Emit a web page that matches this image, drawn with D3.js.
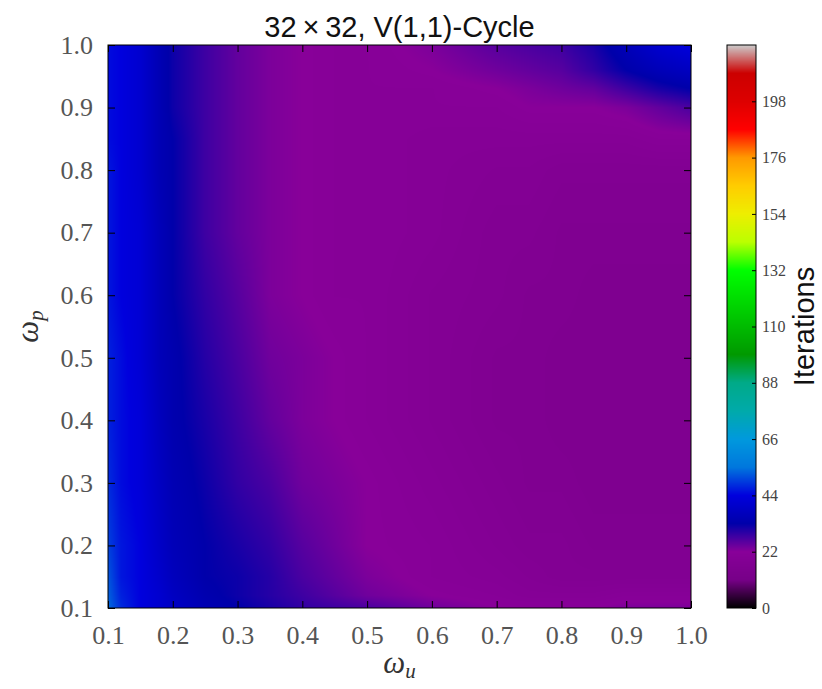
<!DOCTYPE html>
<html>
<head>
<meta charset="utf-8">
<script src="https://cdn.jsdelivr.net/npm/d3@7/dist/d3.min.js"></script>
<style>
  html, body { margin: 0; padding: 0; background: #ffffff; }
  svg { display: block; }
</style>
</head>
<body>
<script>
// ---------------- data ----------------
const omegaU = [0.1, 0.12, 0.15, 0.18, 0.2, 0.25, 0.3, 0.35, 0.4, 0.45, 0.5, 0.6, 0.7, 0.75, 0.8, 0.85, 0.9, 0.95, 1.0];
const omegaP = [0.1, 0.12, 0.15, 0.2, 0.3, 0.4, 0.5, 0.6, 0.7, 0.8, 0.85, 0.9, 0.93, 0.96, 1.0];
// iterations[row for omegaP][column for omegaU]
const iterations = [
  [54, 48, 44, 41, 39, 35, 33, 31, 29, 28, 27, 24, 22, 22, 22, 22, 23, 23, 23],
  [53, 47, 44, 41, 38, 34, 32, 30, 28, 26, 24, 22, 21, 20, 20, 20, 21, 21, 21],
  [52, 46, 44, 40, 37, 33, 32, 30, 27, 25, 23, 21, 20, 19, 18, 18, 18, 18, 18],
  [50, 46, 44, 39, 36, 33, 31, 29, 26, 24, 22, 21, 19, 18, 18, 17, 17, 17, 17],
  [48, 45, 43, 38, 35, 32, 29, 27, 24, 23, 22, 20, 18, 17, 17, 16, 16, 16, 16],
  [47, 45, 43, 37, 34, 31, 28, 25, 23, 22, 21, 19, 17, 17, 16, 16, 16, 16, 16],
  [47, 45, 42, 36, 34, 30, 27, 24, 23, 22, 21, 19, 17, 17, 16, 16, 16, 16, 16],
  [46, 44, 42, 36, 33, 29, 26, 23, 22, 21, 21, 19, 18, 17, 17, 16, 16, 16, 16],
  [46, 44, 42, 36, 33, 28, 25, 23, 22, 21, 21, 20, 18, 18, 17, 17, 17, 17, 17],
  [46, 44, 41, 35, 33, 28, 25, 23, 22, 21, 21, 20, 19, 19, 18, 18, 18, 18, 18],
  [45, 44, 41, 35, 33, 28, 25, 23, 22, 21, 21, 20, 20, 20, 20, 20, 20, 21, 21],
  [45, 44, 41, 35, 32, 28, 25, 23, 22, 21, 21, 21, 21, 22, 22, 22, 23, 25, 27],
  [45, 44, 41, 35, 32, 28, 25, 23, 22, 21, 21, 21, 22, 23, 24, 25, 28, 31, 33],
  [45, 44, 41, 35, 32, 28, 25, 23, 22, 21, 21, 22, 24, 25, 26, 29, 33, 36, 38],
  [45, 44, 41, 35, 32, 28, 25, 23, 22, 21, 21, 23, 26, 27, 28, 31, 36, 41, 44]
];
const xTicks = [0.1, 0.2, 0.3, 0.4, 0.5, 0.6, 0.7, 0.8, 0.9, 1.0];
const yTicks = [0.1, 0.2, 0.3, 0.4, 0.5, 0.6, 0.7, 0.8, 0.9, 1.0];
const cbTicks = [0, 22, 44, 66, 88, 110, 132, 154, 176, 198];
const colorDomain = [0, 220];
const titleText = "32\u2009\u00d7\u200932, V(1,1)-Cycle";
const cbLabel = "Iterations";

// nipy_spectral colormap
const cmapPos = [0.0,0.05,0.10,0.15,0.20,0.25,0.30,0.35,0.40,0.45,0.50,0.55,0.60,0.65,0.70,0.75,0.80,0.85,0.90,0.95,1.0];
const cmapR = [0.0,0.4667,0.5333,0.0,0.0,0.0,0.0,0.0,0.0,0.0,0.0,0.0,0.0,0.7333,0.9333,1.0,1.0,1.0,0.8667,0.80,0.80];
const cmapG = [0.0,0.0,0.0,0.0,0.0,0.4667,0.6000,0.6667,0.6667,0.6000,0.7333,0.8667,1.0,1.0,0.9333,0.8000,0.6000,0.0,0.0,0.0,0.80];
const cmapB = [0.0,0.5333,0.6000,0.6667,0.8667,0.8667,0.8667,0.6667,0.5333,0.0,0.0,0.0,0.0,0.0,0.0,0.0,0.0,0.0,0.0,0.0,0.80];

// ---------------- layout ----------------
const W = 822, H = 689;
const L = 108, R = 691, T = 45, B = 608;
const cbL = 727, cbR = 756;

const svg = d3.select("body").append("svg").attr("width", W).attr("height", H);

const x = d3.scaleLinear().domain([0.1, 1.0]).range([L, R]);
const y = d3.scaleLinear().domain([0.1, 1.0]).range([B, T]);
const color = d3.scaleLinear()
  .domain(cmapPos.map(p => colorDomain[0] + p * (colorDomain[1] - colorDomain[0])))
  .range(cmapPos.map((p, i) => d3.rgb(cmapR[i] * 255, cmapG[i] * 255, cmapB[i] * 255).toString()))
  .interpolate(d3.interpolateRgb)
  .clamp(true);
const cy = d3.scaleLinear().domain(colorDomain).range([B, T]);

// bilinear sampling on the non-uniform grid (gouraud-like shading)
function locate(arr, v) {
  let i = d3.bisectRight(arr, v) - 1;
  i = Math.max(0, Math.min(arr.length - 2, i));
  let t = (v - arr[i]) / (arr[i + 1] - arr[i]);
  t = Math.max(0, Math.min(1, t));
  return [i, t];
}
function sample(u, p) {
  const [iu, tu] = locate(omegaU, u);
  const [ip, tp] = locate(omegaP, p);
  const a = iterations[ip][iu], b = iterations[ip][iu + 1];
  const c = iterations[ip + 1][iu], d = iterations[ip + 1][iu + 1];
  return (a * (1 - tu) + b * tu) * (1 - tp) + (c * (1 - tu) + d * tu) * tp;
}

// heatmap image
const pw = R - L, ph = B - T;
const cv = document.createElement("canvas");
cv.width = pw; cv.height = ph;
const ctx = cv.getContext("2d");
const img = ctx.createImageData(pw, ph);
for (let py = 0; py < ph; py++) {
  const p = y.invert(T + py + 0.5);
  for (let px = 0; px < pw; px++) {
    const u = x.invert(L + px + 0.5);
    const col = d3.rgb(color(sample(u, p)));
    const k = (py * pw + px) * 4;
    img.data[k] = col.r; img.data[k + 1] = col.g; img.data[k + 2] = col.b; img.data[k + 3] = 255;
  }
}
ctx.putImageData(img, 0, 0);
svg.append("image").attr("x", L).attr("y", T).attr("width", pw).attr("height", ph)
  .attr("preserveAspectRatio", "none").attr("href", cv.toDataURL());

// colorbar image
const cbw = cbR - cbL, cbh = B - T;
const cv2 = document.createElement("canvas");
cv2.width = 1; cv2.height = cbh;
const ctx2 = cv2.getContext("2d");
for (let py = 0; py < cbh; py++) {
  ctx2.fillStyle = color(cy.invert(T + py + 0.5));
  ctx2.fillRect(0, py, 1, 1);
}
svg.append("image").attr("x", cbL).attr("y", T).attr("width", cbw).attr("height", cbh)
  .attr("preserveAspectRatio", "none").attr("href", cv2.toDataURL());

// axes
const tickFont = "'Liberation Serif', 'DejaVu Serif', serif";
function styleAxis(g) {
  g.select(".domain").remove();
  g.selectAll(".tick line").attr("stroke", "#000").attr("stroke-width", 1);
  g.selectAll(".tick text").attr("font-family", tickFont).attr("font-size", 26).attr("fill", "#555");
}
svg.append("g").attr("transform", `translate(0,${B})`)
  .call(d3.axisBottom(x).tickValues(xTicks).tickFormat(d3.format(".1f")).tickSize(-7).tickPadding(18))
  .call(styleAxis);
svg.append("g").attr("transform", `translate(${L},0)`)
  .call(d3.axisLeft(y).tickValues(yTicks).tickFormat(d3.format(".1f")).tickSize(-7).tickPadding(15))
  .call(styleAxis);
svg.append("g").attr("transform", `translate(0,${T})`)
  .call(d3.axisTop(x).tickValues(xTicks).tickFormat("").tickSize(-7))
  .call(styleAxis);
svg.append("g").attr("transform", `translate(${R},0)`)
  .call(d3.axisRight(y).tickValues(yTicks).tickFormat("").tickSize(-7))
  .call(styleAxis);

svg.append("rect").attr("x", L).attr("y", T).attr("width", pw).attr("height", ph)
  .attr("fill", "none").attr("stroke", "#000").attr("stroke-width", 1);

// colorbar axis
const cbAxis = svg.append("g").attr("transform", `translate(${cbR},0)`)
  .call(d3.axisRight(cy).tickValues(cbTicks).tickSize(-4).tickPadding(6));
cbAxis.select(".domain").remove();
cbAxis.selectAll(".tick line").attr("stroke", "#000");
cbAxis.selectAll(".tick text").attr("font-family", tickFont).attr("font-size", 16).attr("fill", "#444");
svg.append("rect").attr("x", cbL).attr("y", T).attr("width", cbw).attr("height", cbh)
  .attr("fill", "none").attr("stroke", "#000").attr("stroke-width", 1);

// labels
svg.append("text").attr("x", (L + R) / 2).attr("y", 37).attr("text-anchor", "middle")
  .attr("font-family", "'Liberation Sans', Arial, sans-serif").attr("font-size", 29).attr("fill", "#111")
  .text(titleText);

svg.append("text").attr("transform", `translate(814,${(T + B) / 2}) rotate(-90)`)
  .attr("text-anchor", "middle")
  .attr("font-family", "'Liberation Sans', Arial, sans-serif").attr("font-size", 29).attr("fill", "#111")
  .text(cbLabel);

const xl = svg.append("text").attr("x", (L + R) / 2).attr("y", 673).attr("text-anchor", "middle")
  .attr("font-family", tickFont).attr("font-size", 31).attr("fill", "#333");
xl.append("tspan").attr("font-style", "italic").text("\u03c9");
xl.append("tspan").attr("font-style", "italic").attr("font-size", 21).attr("dy", 5).text("u");

const yl = svg.append("text").attr("transform", `translate(38,${(T + B) / 2}) rotate(-90)`)
  .attr("text-anchor", "middle")
  .attr("font-family", tickFont).attr("font-size", 31).attr("fill", "#333");
yl.append("tspan").attr("font-style", "italic").text("\u03c9");
yl.append("tspan").attr("font-style", "italic").attr("font-size", 21).attr("dy", 5).text("p");
</script>
</body>
</html>
